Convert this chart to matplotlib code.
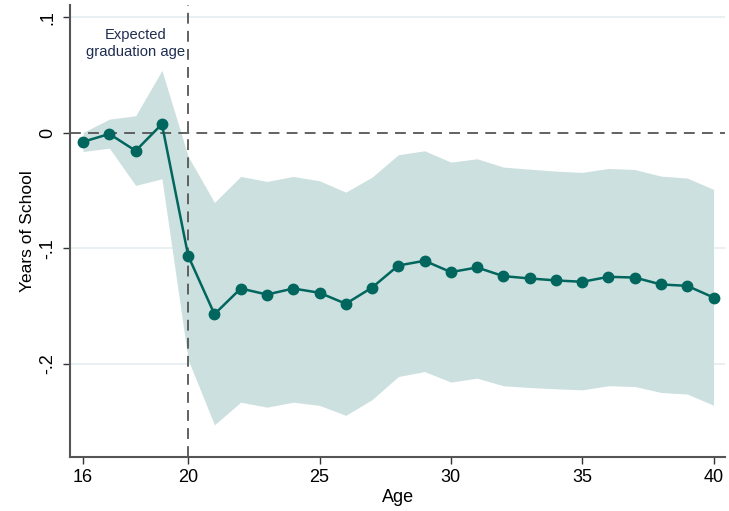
import matplotlib
matplotlib.use("Agg")
import matplotlib.pyplot as plt

ages = list(range(16, 41))
estimate = [-0.0078, -0.0010, -0.0156, 0.0075, -0.1065, -0.1570, -0.1348, -0.1400,
            -0.1348, -0.1385, -0.1480, -0.1340, -0.1149, -0.1108, -0.1206, -0.1166,
            -0.1241, -0.1261, -0.1278, -0.1290, -0.1247, -0.1253, -0.1313, -0.1325,
            -0.1426]
upper = [0.0003, 0.0118, 0.0147, 0.0540, -0.0205, -0.0603, -0.0378, -0.0421,
         -0.0378, -0.0416, -0.0514, -0.0384, -0.0190, -0.0156, -0.0254, -0.0225,
         -0.0297, -0.0315, -0.0332, -0.0343, -0.0309, -0.0318, -0.0375, -0.0392,
         -0.0490]
lower = [-0.0162, -0.0133, -0.0456, -0.0398, -0.1965, -0.2528, -0.2332, -0.2375,
         -0.2332, -0.2360, -0.2446, -0.2310, -0.2110, -0.2067, -0.2158, -0.2124,
         -0.2190, -0.2205, -0.2216, -0.2225, -0.2190, -0.2196, -0.2248, -0.2262,
         -0.2358]
xticks = [16, 20, 25, 30, 35, 40]
yticks = [0.1, 0, -0.1, -0.2]
ytick_labels = [".1", "0", "-.1", "-.2"]
grad_age = 20
annotation = "Expected\ngraduation age"

plt.rcParams['font.family'] = ['Liberation Sans', 'DejaVu Sans']

fig = plt.figure(figsize=(7.29, 5.11), dpi=100)
ax = fig.add_axes([0.096, 0.106, 0.899, 0.884])

teal = "#00665E"
ax.fill_between(ages, lower, upper, color="#CCE0DF", linewidth=0, zorder=1)
for y in yticks:
    if y != 0:
        ax.axhline(y, color="#E4EEF1", linewidth=1.2, zorder=0.5)
ax.axhline(0, color="#555555", linewidth=1.3, linestyle=(0, (6, 4)), zorder=2)
ax.axvline(grad_age, color="#555555", linewidth=1.3, linestyle=(0, (6, 4)), zorder=2)
ax.plot(ages, estimate, color=teal, linewidth=1.8, marker="o", markersize=7.5,
        zorder=3)

ax.text(18.0, 0.0775, annotation, ha="center", va="center", fontsize=10.6,
        color="#1F2D50", linespacing=1.25, zorder=4)

ax.set_xlim(15.5, 40.45)
ax.set_ylim(-0.2805, 0.1105)
ax.set_xticks(xticks)
ax.set_xticklabels([str(t) for t in xticks])
ax.set_yticks(yticks)
ax.set_yticklabels(ytick_labels, rotation=90, va="center")
ax.tick_params(axis="both", labelsize=13, length=5, width=1, color="#333333",
               direction="out", pad=4)
ax.tick_params(axis="y", pad=5)
for s in ["top", "right"]:
    ax.spines[s].set_visible(False)
for s in ["left", "bottom"]:
    ax.spines[s].set_color("#555555")
    ax.spines[s].set_linewidth(1.5)
ax.set_xlabel("Age", fontsize=13, labelpad=2)
ax.set_ylabel("Years of School", fontsize=12.5, labelpad=3)

fig.savefig("out.png", dpi=100, facecolor="white")
